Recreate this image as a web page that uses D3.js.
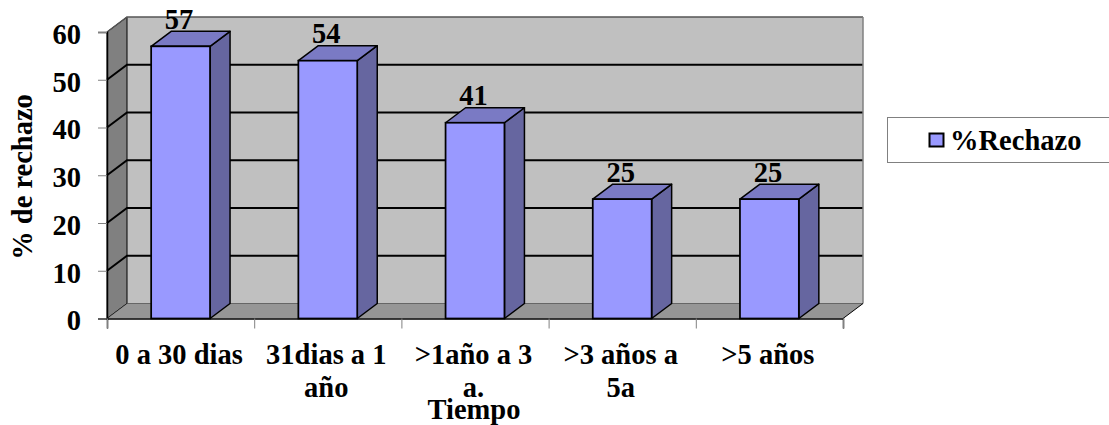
<!DOCTYPE html>
<html>
<head>
<meta charset="utf-8">
<script src="https://cdn.jsdelivr.net/npm/d3@7/dist/d3.min.js"></script>
<style>
  html, body { margin: 0; padding: 0; background: #fff; }
  svg { display: block; }
  text { font-family: "Liberation Serif", serif; font-weight: bold; fill: #000; }
</style>
</head>
<body>
<svg id="chart" width="1109" height="425"></svg>
<script>
// Rejection rate by elapsed time
const categories = ["0 a 30 dias", "31dias a 1 año", ">1año a 3 a.", ">3 años a 5a", ">5 años"];
const categoryLines = [["0 a 30 dias"], ["31dias a 1", "año"], [">1año a 3", "a."], [">3 años a", "5a"], [">5 años"]];
const rechazo = [57, 54, 41, 25, 25];
const yTicks = [0, 10, 20, 30, 40, 50, 60];
const seriesName = "%Rechazo";
const yTitle = "% de rechazo";
const xTitle = "Tiempo";

// Depth of the pseudo-3D box
const dx = 20, dy = -15;
const fontSize = 28.5;
const labelShift = -1.5;

const svg = d3.select("#chart");
const x = d3.scaleBand().domain(categories).range([107, 843]).paddingInner(0.6).paddingOuter(0.3);
const y = d3.scaleLinear().domain([0, 60]).range([318.5, 32]);
const xEdges = d3.scaleLinear().domain([0, categories.length]).range([107, 843]);

const poly = (pts) => pts.map(p => p.join(",")).join(" ");
const [x0, x1] = x.range();
const y0 = y(0), yTop = y(60);

// Walls and floor
svg.append("polygon").attr("points", poly([[x0 + dx, y0 + dy], [x1 + dx, y0 + dy], [x1 + dx, yTop + dy], [x0 + dx, yTop + dy]]))
  .attr("fill", "#c0c0c0");
svg.append("polygon").attr("points", poly([[x0, y0], [x0 + dx, y0 + dy], [x0 + dx, yTop + dy], [x0, yTop]]))
  .attr("fill", "#808080").attr("stroke", "#000").attr("stroke-width", 1);
svg.append("polygon").attr("points", poly([[x0, y0], [x1, y0], [x1 + dx, y0 + dy], [x0 + dx, y0 + dy]]))
  .attr("fill", "#969696");

// Gridlines wrap from the left wall along the back wall
svg.append("g").selectAll("polyline").data(yTicks).join("polyline")
  .attr("points", d => poly([[x0, y(d)], [x0 + dx, y(d) + dy], [x1 + dx, y(d) + dy]]))
  .attr("fill", "none").attr("stroke", d => d === 60 ? "#555" : "#000")
  .attr("stroke-width", d => d === 0 ? 1 : d === 60 ? 1.5 : 2)
  .attr("stroke-opacity", d => d === 0 ? 0.45 : 1);
svg.append("line").attr("x1", x1 + dx).attr("x2", x1 + dx).attr("y1", yTop + dy).attr("y2", y0 + dy)
  .attr("stroke", "#808080").attr("stroke-width", 1.5);
svg.append("line").attr("x1", x1).attr("x2", x1 + dx).attr("y1", y0).attr("y2", y0 + dy)
  .attr("stroke", "#000").attr("stroke-width", 1);

// Bars: side, top, front
const bars = svg.append("g").selectAll("g").data(rechazo).join("g");
const bw = x.bandwidth();
bars.append("polygon")
  .attr("points", (d, i) => { const l = x(categories[i]) + bw; return poly([[l, y0], [l + dx, y0 + dy], [l + dx, y(d) + dy], [l, y(d)]]); })
  .attr("fill", "#6666a0").attr("stroke", "#000").attr("stroke-width", 1.5).attr("stroke-linejoin", "round");
bars.append("polygon")
  .attr("points", (d, i) => { const l = x(categories[i]); return poly([[l, y(d)], [l + bw, y(d)], [l + bw + dx, y(d) + dy], [l + dx, y(d) + dy]]); })
  .attr("fill", "#7a7ac4").attr("stroke", "#000").attr("stroke-width", 1.5).attr("stroke-linejoin", "round");
bars.append("rect")
  .attr("x", (d, i) => x(categories[i])).attr("y", d => y(d)).attr("width", bw).attr("height", d => y0 - y(d))
  .attr("fill", "#9999ff").attr("stroke", "#000").attr("stroke-width", 1.75);

// Axes
const yAxis = svg.append("g").attr("transform", `translate(${x0},0)`)
  .call(d3.axisLeft(y).tickValues(yTicks).tickSize(9).tickPadding(17));
yAxis.selectAll("text").attr("font-size", fontSize).attr("dy", "0.4em").style("font-family", "Liberation Serif").style("font-weight", "bold");
const xAxis = svg.append("g").attr("transform", `translate(0,${y0})`)
  .call(d3.axisBottom(xEdges).tickValues(d3.range(categories.length + 1)).tickSize(10).tickFormat(""));
[yAxis, xAxis].forEach(a => {
  a.selectAll("path.domain").attr("stroke", "#000").attr("stroke-width", 1.5);
  a.selectAll(".tick line").attr("stroke", "#808080").attr("stroke-width", 1);
});

// Category labels
const catLabels = svg.append("g").selectAll("text").data(categories).join("text")
  .attr("text-anchor", "middle").attr("font-size", fontSize)
  .attr("x", d => x(d) + bw / 2 + labelShift).attr("y", 364);
catLabels.selectAll("tspan").data((d, i) => categoryLines[i]).join("tspan")
  .attr("x", function () { return d3.select(this.parentNode).attr("x"); })
  .attr("dy", (d, i) => i ? 33 : 0).text(d => d);

// Value labels
svg.append("g").selectAll("text").data(rechazo).join("text")
  .attr("text-anchor", "middle").attr("font-size", fontSize)
  .attr("x", (d, i) => x(categories[i]) + bw / 2 + labelShift).attr("y", d => y(d) - 17.5).text(d => d);

// Axis titles
svg.append("text").attr("text-anchor", "middle").attr("font-size", fontSize)
  .attr("x", 474).attr("y", 419).text(xTitle);
svg.append("text").attr("text-anchor", "middle").attr("font-size", fontSize)
  .attr("transform", "translate(32,177) rotate(-90)").text(yTitle);

// Legend
const legend = svg.append("g");
legend.append("rect").attr("x", 887.5).attr("y", 117.5).attr("width", 222).attr("height", 45)
  .attr("fill", "#fff").attr("stroke", "#808080");
legend.append("rect").attr("x", 929.5).attr("y", 133.5).attr("width", 14).attr("height", 13)
  .attr("fill", "#9999ff").attr("stroke", "#000").attr("stroke-width", 2);
legend.append("text").attr("x", 950).attr("y", 150).attr("font-size", fontSize).text(seriesName);
</script>
</body>
</html>
